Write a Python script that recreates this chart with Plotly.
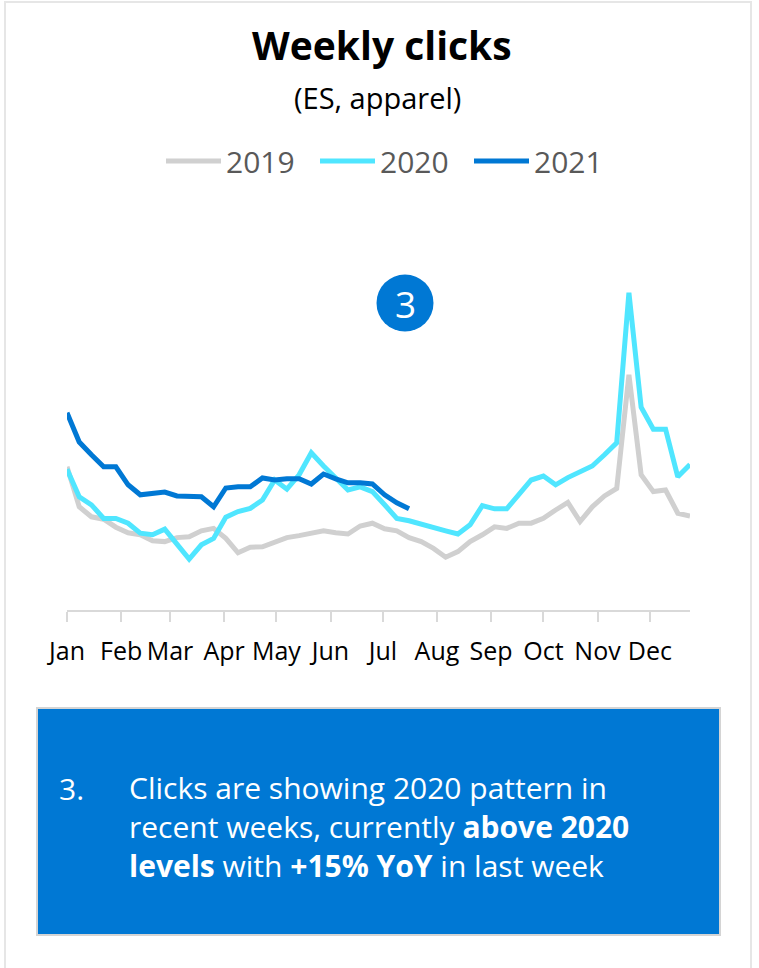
import pandas as pd
import plotly.graph_objects as go

# Weekly clicks (thousands), ES apparel, one point per week starting 1 Jan
clicks_2019 = [35.8, 25.8, 23.3, 22.7, 20.7, 19.3, 18.8, 17.3, 17.1, 18.1, 18.3, 19.8, 20.4,
               17.9, 14.3, 15.7, 15.8, 17.1, 18.1, 18.6, 19.2, 19.8, 19.3, 19.0, 21.0, 21.7,
               20.3, 19.8, 18.1, 17.1, 15.4, 13.2, 14.6, 17.1, 18.8, 20.8, 20.4, 21.7, 21.7,
               22.9, 25.0, 26.9, 22.1, 25.8, 28.5, 30.4, 58.8, 33.8, 29.6, 30.0, 24.2, 23.5]
clicks_2020 = [35.2, 28.3, 26.3, 22.9, 22.9, 21.7, 19.2, 18.8, 20.2, 16.3, 12.7, 16.3, 17.9,
               23.2, 24.6, 25.4, 27.5, 32.5, 30.2, 33.8, 39.3, 36.0, 32.9, 30.0, 30.8, 29.6,
               26.3, 22.9, 22.3, 21.4, 20.4, 19.8, 19.0, 21.3, 26.1, 25.3, 25.3, 28.8, 32.5,
               33.5, 31.3, 33.1, 34.4, 36.0, 38.8, 41.8, 79.3, 50.7, 45.2, 45.2, 33.3, 36.4]
clicks_2021 = [49.3, 42.0, 38.8, 35.8, 35.8, 31.3, 28.8, 29.3, 29.5, 28.5, 28.5, 28.3, 25.8,
               30.5, 30.8, 30.8, 33.0, 32.5, 32.8, 32.8, 31.5, 34.0, 32.8, 31.8, 31.8, 31.5,
               28.8, 26.8, 25.3]

years = ["2019", "2020", "2021"]
colors = ["#d0d0d0", "#50e6ff", "#0078d4"]
month_labels = ["Jan", "Feb", "Mar", "Apr", "May", "Jun",
                "Jul", "Aug", "Sep", "Oct", "Nov", "Dec"]
note_text = ("Clicks are showing 2020 pattern in<br>"
             "recent weeks, currently <b>above 2020</b><br>"
             "<b>levels</b> with <b>+15% YoY</b> in last week")

weeks = pd.date_range("2021-01-01", periods=52, freq="7D")
month_starts = pd.date_range("2021-01-01", periods=12, freq="MS")

FONT = "Open Sans"

fig = go.Figure()
for name, values, color in zip(years, [clicks_2019, clicks_2020, clicks_2021], colors):
    fig.add_trace(go.Scatter(
        x=weeks[:len(values)], y=values, name=name, mode="lines",
        line=dict(color=color, width=5),
    ))

# plot area geometry (px) used to place the decorations around it
W, H = 759, 968
L, R, T, B = 67, 69, 210, 358
PW, PH = W - L - R, H - T - B


def px(xp):
    return (xp - L) / PW


def py(yp):
    return (H - B - yp) / PH


shapes = [
    # card outline
    dict(type="rect", xref="paper", yref="paper", layer="below",
         x0=px(5), x1=px(751), y0=py(985), y1=py(2),
         line=dict(color="#e6e6e6", width=2), fillcolor="rgba(0,0,0,0)"),
    # callout badge
    dict(type="circle", xref="paper", yref="paper",
         xsizemode="pixel", ysizemode="pixel",
         xanchor=px(405), yanchor=py(303),
         x0=-28.5, x1=28.5, y0=-28.5, y1=28.5,
         fillcolor="#0078d4", line=dict(width=0)),
    # commentary panel
    dict(type="rect", xref="paper", yref="paper",
         x0=px(37), x1=px(720), y0=py(935), y1=py(708),
         fillcolor="#0078d4", line=dict(color="#d4d4d4", width=2)),
]

annotations = [
    dict(text="<b>Weekly clicks</b>", x=px(382), y=py(44), xref="paper", yref="paper",
         xanchor="center", yanchor="middle", showarrow=False,
         font=dict(family=FONT, size=39, color="#000000")),
    dict(text="(ES, apparel)", x=px(377), y=py(97), xref="paper", yref="paper",
         xanchor="center", yanchor="middle", showarrow=False,
         font=dict(family=FONT, size=29, color="#000000")),
    dict(text="3", x=px(405), y=py(303), xref="paper", yref="paper",
         xanchor="center", yanchor="middle", showarrow=False,
         font=dict(family=FONT, size=37, color="#ffffff")),
    dict(text="3.", x=px(57), y=py(788), xref="paper", yref="paper",
         xanchor="left", yanchor="middle", showarrow=False,
         font=dict(family=FONT, size=30, color="#ffffff")),
    dict(text=note_text, x=px(127), y=py(826), xref="paper", yref="paper",
         xanchor="left", yanchor="middle", align="left", showarrow=False,
         font=dict(family=FONT, size=30, color="#ffffff")),
]

fig.update_layout(
    width=W, height=H,
    margin=dict(l=L, r=R, t=T, b=B, pad=0),
    paper_bgcolor="#ffffff", plot_bgcolor="#ffffff",
    font=dict(family=FONT, color="#000000"),
    showlegend=True,
    legend=dict(orientation="h", x=px(161), xanchor="left", y=py(161), yanchor="middle",
                font=dict(family=FONT, size=30, color="#595959"),
                itemwidth=55, entrywidth=84, entrywidthmode="pixels",
                tracegroupgap=0, bgcolor="rgba(0,0,0,0)"),
    xaxis=dict(type="date", range=[weeks[0], weeks[-1]],
               tickvals=month_starts, ticktext=month_labels,
               ticks="outside", ticklen=10, tickwidth=2, tickcolor="#d9d9d9",
               showline=True, linecolor="#d9d9d9", linewidth=2,
               showgrid=False, zeroline=False, ticklabelstandoff=8,
               tickfont=dict(family=FONT, size=25, color="#000000")),
    yaxis=dict(visible=False, range=[0, 100], showgrid=False, zeroline=False),
    shapes=shapes,
    annotations=annotations,
)

fig.write_html("out.html")
